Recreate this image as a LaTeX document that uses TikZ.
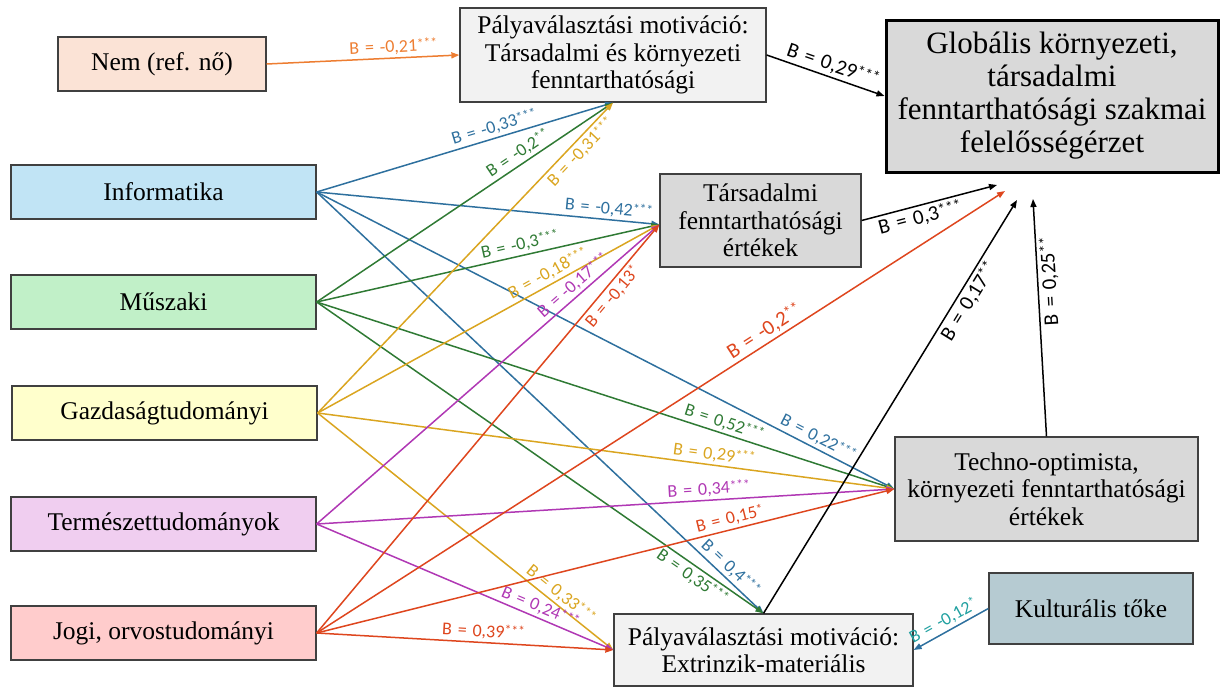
\documentclass[tikz,border=0pt]{standalone}
\usepackage{fontspec}
\setmainfont{Liberation Serif}
\newfontfamily\lbl{Carlito}
\usetikzlibrary{arrows.meta,calc}
\newcommand\st[1]{\raisebox{0.18em}{\scalebox{0.75}{#1}}}
\newcommand\Bq{B\kern0.1em\ =\kern0.1em\ }
\definecolor{cBorder}{RGB}{64,64,64}
\definecolor{fNem}{RGB}{251,227,214}
\definecolor{fInf}{RGB}{193,228,245}
\definecolor{fMu}{RGB}{193,240,200}
\definecolor{fGaz}{RGB}{255,255,204}
\definecolor{fTer}{RGB}{240,206,240}
\definecolor{fJog}{RGB}{255,204,204}
\definecolor{fLight}{RGB}{242,242,242}
\definecolor{fGray}{RGB}{217,217,217}
\definecolor{fKult}{RGB}{182,203,210}
\definecolor{cBlue}{RGB}{46,112,158}
\definecolor{cGreen}{RGB}{47,122,52}
\definecolor{cYel}{RGB}{218,165,32}
\definecolor{cPur}{RGB}{176,56,180}
\definecolor{cRed}{RGB}{222,70,30}
\definecolor{cOra}{RGB}{237,125,49}
\definecolor{cTeal}{RGB}{32,160,160}
\begin{document}
\begin{tikzpicture}[x=1pt,y=-1pt,
  box/.style={draw=cBorder, line width=1.3pt, inner sep=0pt, align=center,
    font=\fontsize{25.5}{27.5}\selectfont},
  side/.style={box, minimum width=305pt, minimum height=54pt},
  arr/.style={line width=1.5pt, -{Triangle[length=8pt,width=6pt]}},
  lab/.style={font=\lbl\fontsize{18}{20}\selectfont, sloped, inner sep=2.5pt},
  biglab/.style={font=\lbl\fontsize{21}{23}\selectfont, sloped, inner sep=2.5pt},
  cB/.style={color=cBlue}, cG/.style={color=cGreen}, cY/.style={color=cYel},
  cP/.style={color=cPur}, cR/.style={color=cRed}, cO/.style={color=cOra},
  cK/.style={color=black}]
\useasboundingbox (0,0) rectangle (1220,688);

% nodes
\node[box, fill=fNem, minimum width=208pt, minimum height=54pt] (nem) at (162,64) {Nem (ref. nő)};
\node[side, fill=fInf] (inf) at (163.5,192) {Informatika};
\node[side, fill=fMu]  (mu)  at (163.5,302) {Műszaki};
\node[side, fill=fGaz] (gaz) at (164.5,413) {Gazdaságtudományi};
\node[side, fill=fTer] (ter) at (163.5,524) {Természettudományok};
\node[side, fill=fJog] (jog) at (163.5,633) {Jogi, orvostudományi};
\node[box, fill=fLight, minimum width=306pt, minimum height=94pt] (P1) at (613,55)
  {Pályaválasztási motiváció:\\Társadalmi és környezeti\\fenntarthatósági};
\node[box, fill=fGray, draw=black, line width=3pt, minimum width=332pt, minimum height=152pt,
  font=\fontsize{31}{33}\selectfont] (G) at (1052,96)
  {Globális környezeti,\\társadalmi\\fenntarthatósági szakmai\\felelősségérzet};
\node[box, fill=fGray, minimum width=201pt, minimum height=93pt] (T) at (760.5,220.5)
  {Társadalmi\\fenntarthatósági\\értékek};
\node[box, fill=fGray, minimum width=303pt, minimum height=104pt] (Te) at (1046.5,489)
  {Techno-optimista,\\környezeti fenntarthatósági\\értékek};
\node[box, fill=fLight, minimum width=299pt, minimum height=72pt] (E) at (763.5,650)
  {Pályaválasztási motiváció:\\Extrinzik-materiális};
\node[box, fill=fKult, minimum width=204pt, minimum height=71pt] (K) at (1091,608.5)
  {Kulturális tőke};

% free end points
\coordinate (tin) at ($(T.west)+(0,4)$);
\coordinate (g1) at (997,185);
\coordinate (g2) at (1005,191);
\coordinate (g3) at (1017,200);
\coordinate (g4) at (1033,199);

% Nem
\draw[arr, cO] (nem.east) -- node[lab, above, pos=0.66] {\Bq-0,21\st{***}} (P1.west);

% Informatika (blue)
\draw[arr, cB] (inf.east) -- node[lab, above, pos=0.61] {\Bq-0,33\st{***}} (P1.south);
\draw[arr, cB] (inf.east) -- node[lab, above, pos=0.85] {\Bq-0,42\st{***}} (tin);
\draw[arr, cB] (inf.east) -- node[lab, above, pos=0.86] {\Bq0,22\st{***}} (Te.west);
\draw[arr, cB] (inf.east) -- node[lab, above, pos=0.91] {\Bq0,4\st{***}} (E.north);

% Muszaki (green)
\draw[arr, cG] (mu.east) -- node[lab, above, pos=0.70] {\Bq-0,2\st{**}} (P1.south);
\draw[arr, cG] (mu.east) -- node[lab, above, pos=0.60] {\Bq-0,3\st{***}} (tin);
\draw[arr, cG] (mu.east) -- node[lab, above, pos=0.70] {\Bq0,52\st{***}} (Te.west);
\draw[arr, cG] (mu.east) -- node[lab, below, pos=0.855] {\Bq0,35\st{***}} (E.north);

% Gazdasag (yellow)
\draw[arr, cY] (gaz.east) -- node[lab, below, pos=0.865] {\Bq-0,31\st{***}} (P1.south);
\draw[arr, cY] (gaz.east) -- node[lab, above, pos=0.69] {\Bq-0,18\st{***}} (tin);
\draw[arr, cY] (gaz.east) -- node[lab, above, pos=0.685] {\Bq0,29\st{***}} (Te.west);
\draw[arr, cY] (gaz.east) -- node[lab, above, pos=0.80] {\Bq0,33\st{***}} (E.west);

% Termeszet (purple)
\draw[arr, cP] (ter.east) -- node[lab, above, pos=0.77] {\Bq-0,17\st{***}} (tin);
\draw[arr, cP] (ter.east) -- node[lab, above, pos=0.68] {\Bq0,34\st{***}} (Te.west);
\draw[arr, cP] (ter.east) -- node[lab, above, pos=0.74] {\Bq0,24\st{***}} (E.west);

% Jogi (red)
\draw[arr, cR] (jog.east) -- node[lab, below, pos=0.84] {\Bq-0,13\st{*}} (tin);
\draw[arr, cR] (jog.east) -- node[biglab, above, pos=0.66] {\Bq-0,2\st{**}} (g2);
\draw[arr, cR] (jog.east) -- node[lab, above, pos=0.72] {\Bq0,15\st{*}} (Te.west);
\draw[arr, cR] (jog.east) -- node[lab, above, pos=0.56] {\Bq0,39\st{***}} (E.west);

% black paths to the outcome
\draw[arr, cK] (P1.east) -- node[biglab, above, pos=0.53] {\Bq0,29\st{***}} (G.west);
\draw[arr, cK] (T.east) -- node[biglab, below, pos=0.41] {\Bq0,3\st{***}} (g1);
\draw[arr, cK] (E.north) -- node[biglab, below, pos=0.77] {\Bq0,17\st{**}} (g3);
\draw[arr, cK] (Te.north) -- node[biglab, below, pos=0.65, allow upside down] {\Bq0,25\st{**}} (g4);

% Kulturalis toke
\draw[arr, cB] (K.west) -- node[lab, above, pos=0.53, text=cTeal] {\Bq-0,12\st{*}} (E.east);
\end{tikzpicture}
\end{document}
